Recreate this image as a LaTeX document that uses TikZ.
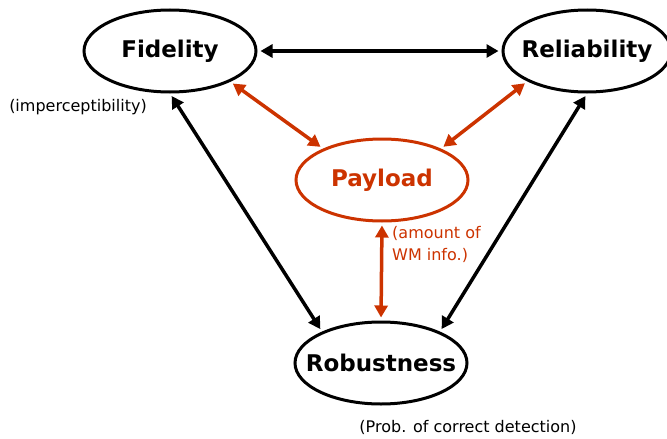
\documentclass[tikz,border=0pt]{standalone}
\usepackage{fontspec}
\setmainfont{DejaVu Sans}
\usetikzlibrary{shapes.geometric,arrows.meta}
\definecolor{wmorange}{RGB}{204,51,0}
\newcommand{\lbl}[1]{\makebox[0pt]{#1}}
\begin{document}
\begin{tikzpicture}[x=1pt,y=-1pt]
%%%%%%%%%%%%%%%%%%%%%%%%%%%%%%%%%%%%%%%%%%%%%%%%%%%%%%%%
% STYLE
\tikzstyle{prop}=[ellipse,draw,line width=3pt,minimum width=172pt,minimum height=82pt,inner sep=0pt,font=\fontsize{23}{27}\selectfont\bfseries]
\tikzstyle{propo}=[prop,draw=wmorange,text=wmorange]
\tikzstyle{lnk}=[line width=3.5pt,{Triangle[length=12pt,width=13pt]}-{Triangle[length=12pt,width=13pt]},shorten <=3pt,shorten >=3pt]
\tikzstyle{lnko}=[lnk,draw=wmorange]
\tikzstyle{txt}=[inner sep=0pt,font=\fontsize{16}{20}\selectfont]

\useasboundingbox (0,0) rectangle (667,439);
%%%%%%%%%%%%%%%%%%%%%%%%%%%%%%%%%%%%%%%%%%%%%%%%%%%%%%%%
% NODES
\node[prop] (Fid) at (170,51) {\lbl{Fidelity}};
\node[prop,minimum width=168pt] (Rel) at (587,51) {\lbl{Reliability}};
\node[propo] (Pay) at (382,180) {\lbl{Payload}};
\node[prop] (Rob) at (381,363) {\lbl{Robustness}};

\node[txt] (t0) at (78,107) {(imperceptibility)};
\node[txt,text=wmorange,align=left,anchor=west,font=\fontsize{16}{22}\selectfont] (t1) at (392,244) {(amount of\\WM info.)};
\node[txt] (t2) at (468,427) {(Prob. of correct detection)};
%%%%%%%%%%%%%%%%%%%%%%%%%%%%%%%%%%%%%%%%%%%%%%%%%%%%%%%%
% LINKS
\draw[lnk] (Fid.east) -- (Rel.west);
\draw[lnk] (Fid.south) -- (Rob.152);
\draw[lnk] (Rel.south) -- (Rob.28);

\draw[lnko] (Fid.333) -- (Pay.152);
\draw[lnko] (Rel.207) -- (Pay.28);
\draw[lnko] (Pay.south) -- (Rob.north);

\end{tikzpicture}
\end{document}
